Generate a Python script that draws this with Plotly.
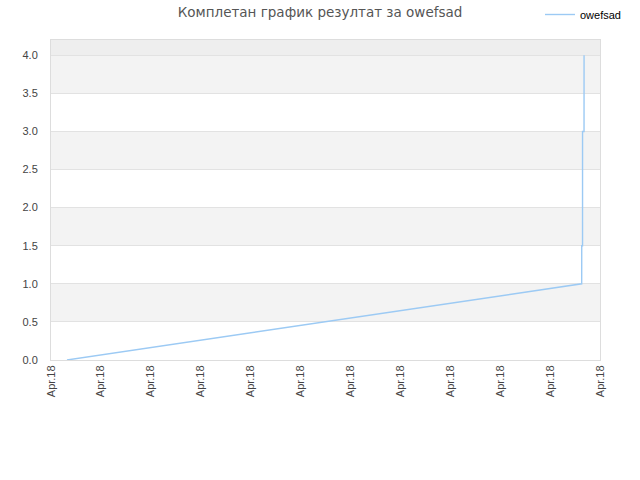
import plotly.graph_objects as go

# results over time (cumulative)
times = [
    "2018-04-10 00:19:12",
    "2018-04-10 10:38:00",
    "2018-04-10 10:38:02",
    "2018-04-10 10:39:00",
    "2018-04-10 10:39:02",
    "2018-04-10 10:40:48",
    "2018-04-10 10:40:50",
]
results = [0.0, 1.0, 1.5, 1.5, 3.0, 3.0, 4.0]

series_name = "owefsad"
title_text = "Комплетан график резултат за owefsad"

fig = go.Figure()

fig.add_trace(
    go.Scatter(
        x=times,
        y=results,
        mode="lines",
        name=series_name,
        line=dict(color="#9ccaf4", width=1.4),
    )
)

# alternating bands behind the plot
bands = [(0.5, 1.0), (1.5, 2.0), (2.5, 3.0), (3.5, 4.0)]
for lo, hi in bands:
    fig.add_shape(
        type="rect", xref="paper", yref="y", x0=0, x1=1, y0=lo, y1=hi,
        fillcolor="#f3f3f3", line_width=0, layer="below",
    )
fig.add_shape(
    type="rect", xref="paper", yref="y", x0=0, x1=1, y0=4.0, y1=4.2,
    fillcolor="#eeeeee", line_width=0, layer="below",
)

fig.update_layout(
    width=640,
    height=480,
    margin=dict(l=51, r=40, t=40, b=120, autoexpand=False),
    paper_bgcolor="white",
    plot_bgcolor="white",
    font=dict(family="Liberation Sans, Arial, sans-serif", size=11, color="#444"),
    title=dict(
        text=title_text,
        x=0.5,
        xanchor="center",
        y=1 - 12 / 480,
        yanchor="middle",
        font=dict(family="DejaVu Sans", size=13.5, color="#555"),
    ),
    showlegend=True,
    legend=dict(
        x=540 / 640,
        xref="container",
        xanchor="left",
        y=1.0,
        yanchor="top",
        yref="container",
        font=dict(size=11, color="black"),
        bgcolor="rgba(0,0,0,0)",
        itemwidth=30,
    ),
)

fig.update_xaxes(
    type="date",
    range=["2018-04-10 00:00", "2018-04-10 11:00"],
    tick0="2018-04-10 00:00",
    dtick=3600000,
    tickformat="%b.%y",
    tickangle=-90,
    showgrid=False,
    showline=True,
    linecolor="#dddddd",
    linewidth=1,
    mirror=True,
    ticks="",
    zeroline=False,
    automargin=False,
)

fig.update_yaxes(
    range=[0, 4.2],
    dtick=0.5,
    tickformat=".1f",
    showgrid=True,
    gridcolor="#e2e2e2",
    showline=True,
    linecolor="#dddddd",
    linewidth=1,
    mirror=True,
    zeroline=False,
    ticks="",
    ticklabelstandoff=10,
    automargin=False,
)

# page body has a default 8px margin; drop it so the figure sits at 0,0
fig.write_html(
    "out.html",
    config={"displayModeBar": False},
    post_script="document.body.style.margin='0';",
)
